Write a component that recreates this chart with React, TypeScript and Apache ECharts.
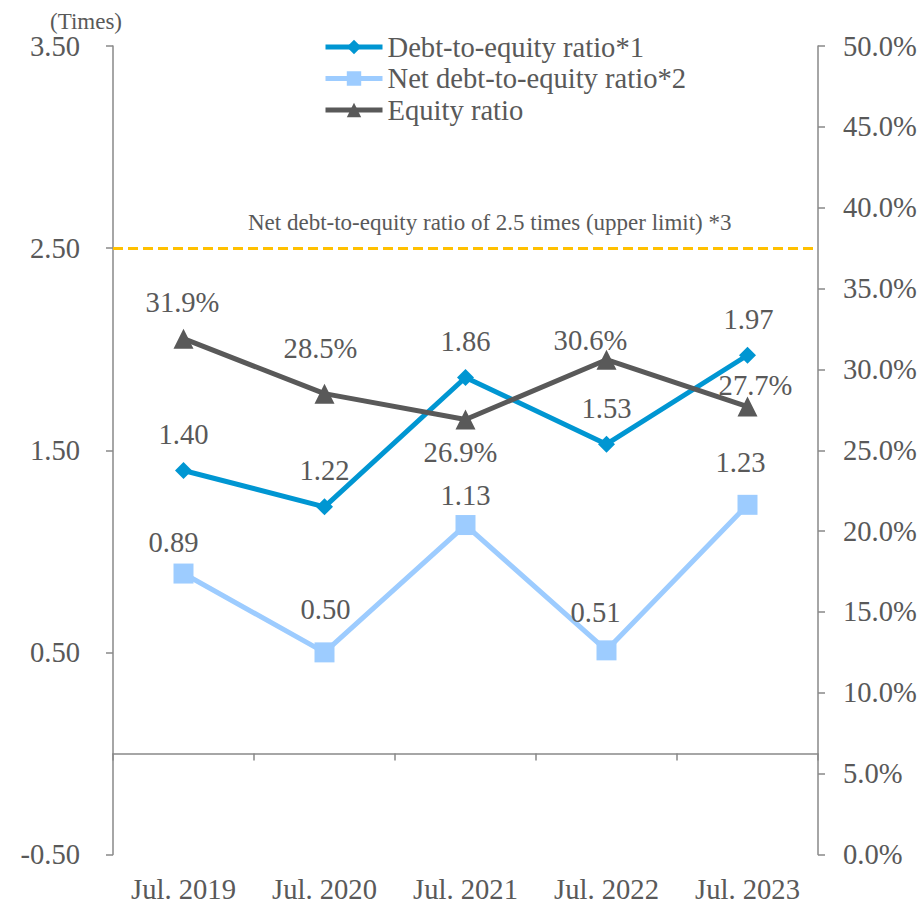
import { useEffect, useRef } from 'react';
import * as echarts from 'echarts';

// Fiscal year-end points and the three balance-sheet ratios
const categories = ['Jul. 2019', 'Jul. 2020', 'Jul. 2021', 'Jul. 2022', 'Jul. 2023'];
const debtToEquity = [1.4, 1.22, 1.86, 1.53, 1.97];
const netDebtToEquity = [0.89, 0.5, 1.13, 0.51, 1.23];
const equityRatio = [31.9, 28.5, 26.9, 30.6, 27.7];
const timesTicks = [-0.5, 0.5, 1.5, 2.5, 3.5];
const upperLimit = 2.5;

// Hand-placed value label offsets (px, relative to each marker)
const deLabelOffsets = [[0, -36], [0, -36], [0, -36], [0, -36], [1, -36]];
const netLabelOffsets = [[-10, -31], [1, -43], [0, -30], [-11, -38], [-7, -42]];
const equityLabelOffsets = [[-1, -36], [-4, -45], [-5, 33], [-16, -19], [8, -21]];

const FONT = '"Liberation Serif", "Times New Roman", serif';
const FS = 28.6;
const TEXT = '#595959';
const AXIS = '#898989';
const BLUE = '#0096D2';
const LIGHT = '#9DCCFF';
const DARK = '#595959';
const GOLD = '#FFC000';

const valueLabel = (fmt: (v: number) => string) => ({
  show: true,
  position: 'inside' as const,
  fontSize: FS,
  color: TEXT,
  fontFamily: FONT,
  formatter: (p: any) => fmt(p.value as number),
});

export default function App() {
  const ref = useRef<HTMLDivElement>(null);

  useEffect(() => {
    if (!ref.current) return;
    const chart = echarts.init(ref.current, undefined, { renderer: 'svg' });

    chart.setOption({
      animation: false,
      backgroundColor: '#ffffff',
      textStyle: { fontFamily: FONT },
      grid: { left: 113, right: 102, top: 46, bottom: 48, containLabel: false },
      legend: {
        orient: 'vertical',
        left: 323,
        top: 32,
        padding: 0,
        itemWidth: 57,
        itemHeight: 18,
        itemGap: 1.5,
        lineStyle: { width: 5 },
        textStyle: { fontSize: FS, color: TEXT, fontFamily: FONT, lineHeight: 30 },
        data: ['Debt-to-equity ratio*1', 'Net debt-to-equity ratio*2', 'Equity ratio'],
      },
      graphic: [
        {
          type: 'text',
          x: 86,
          y: 21,
          style: {
            text: '(Times)',
            fontSize: 23,
            fill: TEXT,
            fontFamily: FONT,
            align: 'center',
            verticalAlign: 'middle',
          },
        },
        {
          type: 'text',
          x: 248,
          y: 222,
          style: {
            text: 'Net debt-to-equity ratio of 2.5 times (upper limit) *3',
            fontSize: 23,
            fill: TEXT,
            fontFamily: FONT,
            align: 'left',
            verticalAlign: 'middle',
          },
        },
      ],
      xAxis: [
        {
          // zero line with boundary ticks pointing down
          type: 'category',
          data: categories,
          position: 'top',
          boundaryGap: true,
          axisLine: { show: true, onZero: true, onZeroAxisIndex: 0, lineStyle: { color: AXIS, width: 1.5 } },
          axisTick: { show: true, inside: true, length: 7, interval: 0, lineStyle: { color: AXIS, width: 1.5 } },
          axisLabel: { show: false },
          splitLine: { show: false },
        },
        {
          // category labels along the bottom
          type: 'category',
          data: categories,
          position: 'bottom',
          boundaryGap: true,
          axisLine: { show: false, onZero: false },
          axisTick: { show: false },
          axisLabel: {
            show: true,
            interval: 0,
            margin: 35,
            verticalAlign: 'middle',
            fontSize: FS,
            color: TEXT,
            fontFamily: FONT,
          },
          splitLine: { show: false },
        },
      ],
      yAxis: [
        {
          type: 'value',
          position: 'left',
          min: -0.5,
          max: 3.5,
          axisLine: { show: true, lineStyle: { color: AXIS, width: 1.5 } },
          axisTick: { show: true, length: 7, customValues: timesTicks, lineStyle: { color: AXIS, width: 1.5 } },
          axisLabel: {
            show: true,
            customValues: timesTicks,
            margin: 33,
            fontSize: FS,
            color: TEXT,
            fontFamily: FONT,
            formatter: (v: number) => v.toFixed(2),
          },
          splitLine: { show: false },
        },
        {
          type: 'value',
          position: 'right',
          min: 0,
          max: 50,
          interval: 5,
          axisLine: { show: true, lineStyle: { color: AXIS, width: 1.5 } },
          axisTick: { show: true, length: 7, lineStyle: { color: AXIS, width: 1.5 } },
          axisLabel: {
            show: true,
            margin: 25,
            fontSize: FS,
            color: TEXT,
            fontFamily: FONT,
            formatter: (v: number) => v.toFixed(1) + '%',
          },
          splitLine: { show: false },
        },
      ],
      series: [
        {
          name: 'Debt-to-equity ratio*1',
          type: 'line',
          xAxisIndex: 0,
          yAxisIndex: 0,
          data: debtToEquity.map((v, i) => ({ value: v, label: { offset: deLabelOffsets[i] } })),
          symbol: 'diamond',
          symbolSize: 17,
          lineStyle: { color: BLUE, width: 5 },
          itemStyle: { color: BLUE },
          label: valueLabel((v) => v.toFixed(2)),
          markLine: {
            silent: true,
            symbol: ['none', 'none'],
            label: { show: false },
            lineStyle: { color: GOLD, width: 3, type: [10, 5] },
            data: [{ yAxis: upperLimit }],
          },
        },
        {
          name: 'Net debt-to-equity ratio*2',
          type: 'line',
          xAxisIndex: 0,
          yAxisIndex: 0,
          data: netDebtToEquity.map((v, i) => ({ value: v, label: { offset: netLabelOffsets[i] } })),
          symbol: 'rect',
          symbolSize: 20,
          lineStyle: { color: LIGHT, width: 5 },
          itemStyle: { color: LIGHT },
          label: valueLabel((v) => v.toFixed(2)),
        },
        {
          name: 'Equity ratio',
          type: 'line',
          xAxisIndex: 0,
          yAxisIndex: 1,
          data: equityRatio.map((v, i) => ({ value: v, label: { offset: equityLabelOffsets[i] } })),
          symbol: 'triangle',
          symbolSize: 20,
          lineStyle: { color: DARK, width: 5 },
          itemStyle: { color: DARK },
          label: valueLabel((v) => v.toFixed(1) + '%'),
        },
      ],
    });

    return () => chart.dispose();
  }, []);

  return (
    <div
      ref={ref}
      style={{ position: 'fixed', left: 0, top: 0, width: 920, height: 904, background: '#fff' }}
    />
  );
}
